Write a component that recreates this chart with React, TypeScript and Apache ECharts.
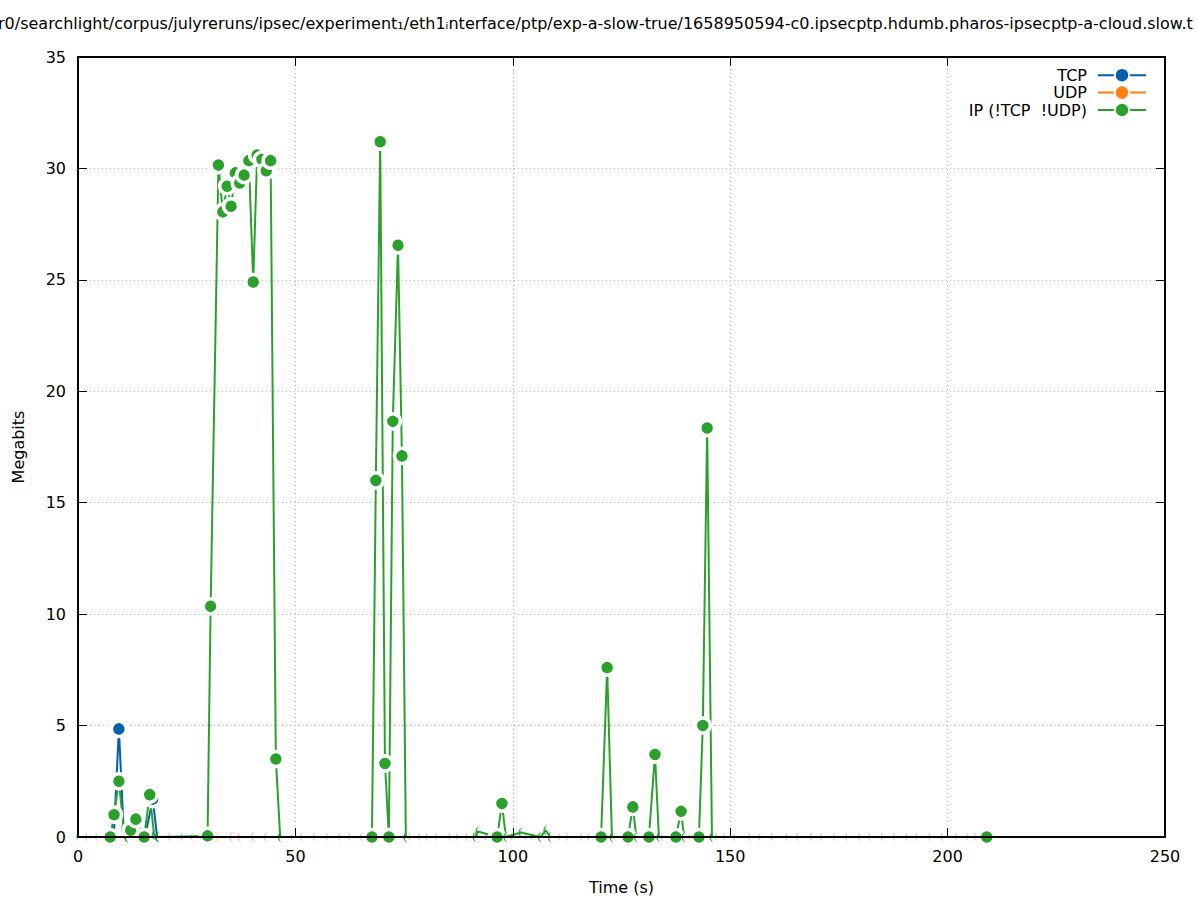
import React, { useEffect, useRef } from "react";
import * as echarts from "echarts";

const TITLE =
  "r0/searchlight/corpus/julyreruns/ipsec/experiment\u2081/eth1\u1d62nterface/ptp/exp-a-slow-true/1658950594-c0.ipsecptp.hdumb.pharos-ipsecptp-a-cloud.slow.t";

const X_NAME = "Time (s)";
const Y_NAME = "Megabits";
const SERIES_NAMES = ["TCP", "UDP", "IP (!TCP  !UDP)"];
const X_TICKS = [0, 50, 100, 150, 200, 250];
const Y_TICKS = [0, 5, 10, 15, 20, 25, 30, 35];

// TCP (seconds, Mb)
const tcpTimes = [7.4, 8.3, 9.4, 10.5, 11.2, 15.4, 17.2, 18.2, 209];
const tcpValues = [0, 0.3, 4.85, 0.3, 0, 0, 1.7, 0, 0];

// UDP (seconds, Mb)
const udpTimes = [32.2, 35.4, 37.3, 40.3, 43.3];
const udpValues = [0, 0, 0, 0, 0];

// IP (!TCP !UDP) (seconds, Mb)
const ipTimes = [
  7.4, 8.3, 9.4, 10.5, 11.2, 12.1, 13.3, 14.4, 15.2, 16.5, 17.5, 18.4,
  29.8, 30.5, 32.3, 33.3, 34.3, 35.2, 36.2, 37.2, 38.2, 39.3, 40.3, 41.2, 42.3, 43.3, 44.3, 45.5, 46.5,
  67.6, 68.5, 69.5, 70.6, 71.5, 72.4, 73.6, 74.5, 75.4,
  91.3, 92.0, 96.4, 97.5, 98.4, 101.9, 106.3, 107.6, 108.6,
  120.3, 121.7, 122.8, 126.5, 127.6, 128.4, 131.3, 132.7, 133.6, 137.5, 138.7, 139.4,
  142.8, 143.7, 144.7, 145.8, 209,
];
const ipValues = [
  0, 1.0, 2.5, 0.4, 0, 0.3, 0.8, 0.2, 0, 1.9, 0.1, 0,
  0.05, 10.35, 30.15, 28.05, 29.2, 28.3, 29.8, 29.35, 29.7, 30.35, 24.9, 30.6, 30.4, 29.9, 30.35, 3.5, 0,
  0, 16.0, 31.2, 3.3, 0, 18.65, 26.55, 17.1, 0,
  0, 0.25, 0, 1.5, 0, 0.2, 0, 0.3, 0,
  0, 7.6, 0, 0, 1.35, 0, 0, 3.7, 0, 0, 1.15, 0,
  0, 5.0, 18.35, 0, 0,
];

// faint zero samples along the baseline (seconds)
const ipBaselineTimes = [
  0, 2.1, 4.4, 21.2, 24.1, 26.4, 49.4, 51.5, 54.5, 57.5, 60.3, 62.6, 65.3,
  76.4, 78.7, 80.3, 82.6, 85.6, 87.4, 89.5, 94, 99.9, 103.2, 104.6, 110.9, 112.7,
  115.9, 117.6, 119, 123.5, 124.9, 129.7, 134.5, 135.8, 140.8, 147, 148.8, 151.1,
  154.6, 156.9, 159.8, 163.1, 165.6, 168.8, 171.1, 174.1, 176.9, 179.9, 182.2,
  185.1, 187.9, 190.7, 193, 196, 198.9, 202.2, 204.7, 206.5,
];

const COLORS = ["#0060ad", "#ff7f0e", "#2ca02c"];
const FONT = "DejaVu Sans";
const CRESCENT = "path://M10,0 A10,10 0 0 0 10,20 A7,10 0 0 1 10,0 Z";

function buildPoints(
  times: number[],
  values: number[],
  color: string,
  hideBelow: number,
  riseRule: boolean,
  hiddenOpacity: number
) {
  return times.map((t, i) => {
    const v = values[i];
    const next = i + 1 < values.length ? values[i + 1] : null;
    let hidden = v < hideBelow;
    if (riseRule) hidden = v < 0.5 && next !== null && next < v + 0.5;
    if (hidden) {
      return {
        value: [t, v],
        symbol: CRESCENT,
        symbolSize: [5, 11],
        itemStyle: { color, borderWidth: 0, opacity: hiddenOpacity },
      };
    }
    return { value: [t, v] };
  });
}

function lineSeries(name: string, data: any[], color: string) {
  return {
    name,
    type: "line",
    data,
    symbol: "circle",
    symbolSize: 15,
    showAllSymbol: true,
    lineStyle: { color, width: 2 },
    itemStyle: { color, borderColor: "#ffffff", borderWidth: 3.5 },
    emphasis: { disabled: true },
    clip: false,
  };
}

export default function App() {
  const ref = useRef<HTMLDivElement>(null);
  useEffect(() => {
    document.body.style.margin = "0";
    if (!ref.current) return;
    const chart = echarts.init(ref.current, null, { renderer: "svg" });

    const tcpData = buildPoints(tcpTimes, tcpValues, COLORS[0], 1, false, 0.8);
    const udpData = buildPoints(udpTimes, udpValues, COLORS[1], 1, false, 0.45);
    const ipData = buildPoints(ipTimes, ipValues, COLORS[2], 0, true, 0.9);
    const baseline = ipBaselineTimes.map((t) => [t, 0]);

    const axisLineStyle = { show: true, onZero: false, lineStyle: { color: "#000", width: 2 } };
    const tickStyle = { show: true, inside: true, length: 9, lineStyle: { color: "#000", width: 1 } };
    const gridLine = { show: true, lineStyle: { type: [1, 3], color: "#bbbbbb", width: 1 } };
    const xRange = {
      min: X_TICKS[0],
      max: X_TICKS[X_TICKS.length - 1],
      interval: X_TICKS[1] - X_TICKS[0],
    };
    const yRange = {
      min: Y_TICKS[0],
      max: Y_TICKS[Y_TICKS.length - 1],
      interval: Y_TICKS[1] - Y_TICKS[0],
    };

    chart.setOption({
      animation: false,
      backgroundColor: "#ffffff",
      textStyle: { fontFamily: FONT },
      graphic: [
        {
          type: "text",
          x: -2,
          y: 23,
          style: {
            text: TITLE,
            fontSize: 16,
            fontFamily: FONT,
            fill: "#000",
            textAlign: "left",
            textVerticalAlign: "middle",
          },
        },
      ],
      grid: { left: 78, right: 32, top: 57, bottom: 62, containLabel: false },
      legend: {
        data: SERIES_NAMES,
        orient: "vertical",
        right: 45,
        top: 62,
        align: "right",
        itemWidth: 48,
        itemHeight: 18,
        itemGap: 1,
        textStyle: { fontSize: 16, color: "#000", fontFamily: FONT, padding: [0, 6, 0, 0] },
        selectedMode: false,
      },
      xAxis: [
        {
          type: "value",
          position: "bottom",
          z: 10,
          ...xRange,
          axisLine: axisLineStyle,
          axisTick: tickStyle,
          axisLabel: { fontSize: 16, color: "#000", margin: 11, fontFamily: FONT },
          splitLine: { show: false },
          name: X_NAME,
          nameLocation: "middle",
          nameGap: 42,
          nameTextStyle: { fontSize: 16, color: "#000", fontFamily: FONT },
        },
        {
          type: "value",
          position: "top",
          z: 0,
          ...xRange,
          axisLine: axisLineStyle,
          axisTick: tickStyle,
          axisLabel: { show: false },
          splitLine: gridLine,
        },
      ],
      yAxis: [
        {
          type: "value",
          position: "left",
          ...yRange,
          axisLine: axisLineStyle,
          axisTick: tickStyle,
          axisLabel: { fontSize: 16, color: "#000", margin: 12, fontFamily: FONT },
          splitLine: gridLine,
          name: Y_NAME,
          nameLocation: "middle",
          nameGap: 52,
          nameRotate: 90,
          nameTextStyle: { fontSize: 16, color: "#000", fontFamily: FONT },
        },
        {
          type: "value",
          position: "right",
          ...yRange,
          axisLine: axisLineStyle,
          axisTick: tickStyle,
          axisLabel: { show: false },
          splitLine: { show: false },
        },
      ],
      series: [
        lineSeries(SERIES_NAMES[0], tcpData, COLORS[0]),
        lineSeries(SERIES_NAMES[1], udpData, COLORS[1]),
        {
          name: "ip-baseline",
          type: "scatter",
          data: baseline,
          symbol: CRESCENT,
          symbolSize: [4, 9],
          itemStyle: { color: COLORS[2], opacity: 0.45 },
          emphasis: { disabled: true },
          clip: false,
          silent: true,
        },
        lineSeries(SERIES_NAMES[2], ipData, COLORS[2]),
      ],
    });
    return () => chart.dispose();
  }, []);
  return <div ref={ref} style={{ width: 1197, height: 900, overflow: "hidden" }} />;
}
